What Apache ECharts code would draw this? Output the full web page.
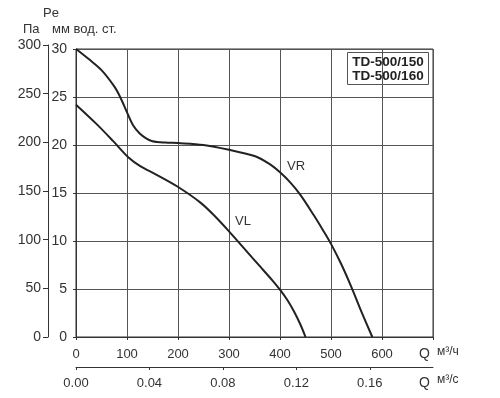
<!DOCTYPE html>
<html>
<head>
<meta charset="utf-8">
<script src="https://cdn.jsdelivr.net/npm/echarts@6/dist/echarts.min.js"></script>
<style>
  html, body { margin: 0; padding: 0; background: #fff; }
  #chart { width: 500px; height: 398px; }
</style>
</head>
<body>
<div id="chart"></div>
<script>
// flow Q in m3/h, pressure Pe in mm water column
const vrCurve = [[0, 30], [25, 28.95], [50, 27.8], [75, 26.1], [87.5, 24.9], [100, 23.4], [112.5, 22.0],
  [125, 21.2], [137.5, 20.7], [150, 20.4], [175, 20.25], [200, 20.2], [250, 20.0], [300, 19.5], [350, 18.85],
  [380, 18.0], [400, 17.15], [420, 16.1], [440, 14.8], [466, 12.7], [484, 11.15], [500, 9.7], [520, 7.6],
  [540, 5.2], [560, 2.6], [581, 0]]
const vlCurve = [[0, 24.2], [40, 22.2], [73, 20.4], [103, 18.7], [126, 17.8], [158, 16.9], [198, 15.7],
  [244, 14.0], [272, 12.6], [300, 11.0], [330, 9.2], [360, 7.4], [385, 5.9], [401, 4.85], [415, 3.8],
  [427, 2.7], [440, 1.3], [450, 0]]
const qTicksM3s = [0, 0.04, 0.08, 0.12, 0.16]
const models = ['TD-500/150', 'TD-500/160']

const font = 'Liberation Sans, Arial, sans-serif'
const txt = '#333'

const chart = echarts.init(document.getElementById('chart'))
chart.setOption({
  animation: false,
  grid: [
    { left: 76, top: 49, width: 357, height: 288, show: true, borderColor: '#333', borderWidth: 1 },
    { left: 48, top: 45, width: 1, height: 292, show: false }
  ],
  xAxis: [
    {
      gridIndex: 0, type: 'value', min: 0, max: 700, interval: 100,
      axisLine: { lineStyle: { color: '#333' } },
      axisTick: { show: true, length: 3, lineStyle: { color: '#333' } },
      splitLine: { show: true, lineStyle: { color: '#555', width: 1 } },
      axisLabel: {
        margin: 11, color: txt, fontSize: 13, fontFamily: font,
        formatter: v => (v === 700 ? '' : v)
      }
    },
    {
      gridIndex: 0, type: 'value', position: 'bottom', offset: 30,
      min: 0, max: 700 / 3600,
      axisLine: { show: true, onZero: false, lineStyle: { color: '#333' } },
      axisTick: { show: true, length: 3, customValues: qTicksM3s, lineStyle: { color: '#333' } },
      splitLine: { show: false },
      axisLabel: {
        margin: 10, color: txt, fontSize: 13, fontFamily: font,
        customValues: qTicksM3s, formatter: v => v.toFixed(2)
      }
    },
    { gridIndex: 1, type: 'value', show: false, min: 0, max: 1 }
  ],
  yAxis: [
    {
      gridIndex: 0, type: 'value', min: 0, max: 30, interval: 5,
      axisLine: { show: true, lineStyle: { color: '#333' } },
      axisTick: { show: true, length: 3, lineStyle: { color: '#333' } },
      splitLine: { show: true, lineStyle: { color: '#555', width: 1 } },
      axisLabel: { margin: 9, color: txt, fontSize: 14, fontFamily: font }
    },
    {
      gridIndex: 1, type: 'value', min: 0, max: 300, interval: 50,
      axisLine: { show: true, lineStyle: { color: '#333' } },
      axisTick: { show: true, length: 5, lineStyle: { color: '#333' } },
      splitLine: { show: false },
      axisLabel: { margin: 7, color: txt, fontSize: 14, fontFamily: font }
    }
  ],
  series: [
    {
      name: 'VR', type: 'line', xAxisIndex: 0, yAxisIndex: 0, data: vrCurve,
      smooth: 0.33, showSymbol: false,
      lineStyle: { color: '#222', width: 2 }
    },
    {
      name: 'VL', type: 'line', xAxisIndex: 0, yAxisIndex: 0, data: vlCurve,
      smooth: 0.33, showSymbol: false,
      lineStyle: { color: '#222', width: 2 }
    }
  ],
  graphic: [
    { type: 'text', left: 43, top: 7, style: { text: 'Pe', fill: txt, font: '13px ' + font } },
    { type: 'text', left: 23, top: 23, style: { text: 'Па', fill: txt, font: '13px ' + font } },
    { type: 'text', left: 52, top: 23, style: { text: 'мм вод. ст.', fill: txt, font: '13px ' + font } },
    { type: 'text', left: 287, top: 160, style: { text: 'VR', fill: txt, font: '13px ' + font } },
    { type: 'text', left: 235, top: 215, style: { text: 'VL', fill: txt, font: '13px ' + font } },
    {
      type: 'rect', shape: { x: 347.5, y: 52.5, width: 81, height: 32 },
      style: { fill: '#fff', stroke: '#555', lineWidth: 1 }
    },
    {
      type: 'text', x: 388, y: 62,
      style: { text: models[0], fill: '#222', font: 'bold 13.5px ' + font, align: 'center', verticalAlign: 'middle' }
    },
    {
      type: 'text', x: 388, y: 76,
      style: { text: models[1], fill: '#222', font: 'bold 13.5px ' + font, align: 'center', verticalAlign: 'middle' }
    },
    { type: 'text', x: 419, y: 354, style: { text: 'Q', fill: txt, font: '14px ' + font, verticalAlign: 'middle' } },
    { type: 'text', x: 437, y: 352, style: { text: 'м³/ч', fill: txt, font: '12px ' + font, verticalAlign: 'middle' } },
    { type: 'text', x: 419, y: 383, style: { text: 'Q', fill: txt, font: '14px ' + font, verticalAlign: 'middle' } },
    { type: 'text', x: 437, y: 380, style: { text: 'м³/с', fill: txt, font: '12px ' + font, verticalAlign: 'middle' } }
  ]
})
</script>
</body>
</html>
